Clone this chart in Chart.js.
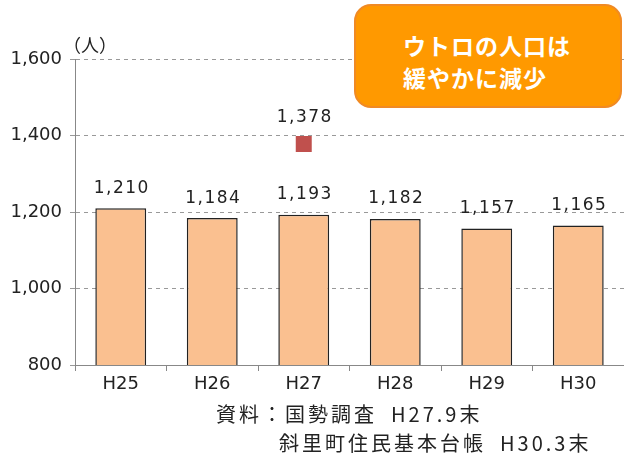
<!DOCTYPE html>
<html>
<head>
<meta charset="utf-8">
<script src="https://cdn.jsdelivr.net/npm/chart.js@4"></script>
<style>
  html, body { margin: 0; padding: 0; background: #fff; }
  #wrap { position: relative; width: 624px; height: 457px; overflow: hidden; }
  #chart { position: absolute; left: 0; top: 0; }
  .unit { position: absolute; left: 63px; top: 31px; font: 18px "Noto Sans CJK JP"; color: #222; }
  .callout {
    position: absolute; left: 354px; top: 4px; width: 264px; height: 100px;
    border: 2px solid #F08A24; border-radius: 17px; background: #FF9900;
    box-sizing: content-box;
  }
  .callout div {
    position: absolute; left: 47px; color: #fff; font: bold 23px "Noto Sans CJK JP";
    letter-spacing: 1px; line-height: 32px; white-space: nowrap;
  }
  .src { position: absolute; font: 20px "Noto Sans CJK JP"; color: #222; letter-spacing: 3px; white-space: pre; line-height: 24px; }
  .gap { letter-spacing: -6px; }
</style>
</head>
<body>
<div id="wrap">
  <canvas id="chart" width="624" height="457"></canvas>
  <div class="unit">（人）</div>
  <div class="callout">
    <div style="top:23px">ウトロの人口は</div>
    <div style="top:55px">緩やかに減少</div>
  </div>
  <div class="src" style="left:216px; top:402px;">資料：国勢調査<span class="gap">　</span>H27.9末</div>
  <div class="src" style="left:279px; top:431px;">斜里町住民基本台帳<span class="gap">　</span>H30.3末</div>
</div>
<script>
// values
const years = ['H25', 'H26', 'H27', 'H28', 'H29', 'H30'];
const residents = [1210, 1184, 1193, 1182, 1157, 1165];   // 住民基本台帳
const census = [null, null, 1378, null, null, null];       // 国勢調査
const yTicks = [800, 1000, 1200, 1400, 1600];

function fmt(v) {
    return v.toLocaleString('en-US');
}

// value labels above the bars and the census point
const valueLabels = {
    id: 'valueLabels',
    afterDatasetsDraw: function (chart) {
        let ctx = chart.ctx;
        ctx.save();
        ctx.font = '17px "DejaVu Sans"';
        ctx.fillStyle = '#222';
        ctx.textAlign = 'center';
        ctx.textBaseline = 'middle';
        ctx.letterSpacing = '1.5px';
        chart.data.datasets.forEach(function (ds, i) {
            let meta = chart.getDatasetMeta(i);
            meta.data.forEach(function (el, j) {
                let v = ds.data[j];
                if (v == null) return;
                let off = ds.type === 'line' ? 26 : 20;
                ctx.fillText(fmt(v), el.x + 1, el.y - off);
            });
        });
        ctx.restore();
    }
};

new Chart(document.getElementById('chart'), {
    type: 'bar',
    data: {
        labels: years,
        datasets: [
            {
                type: 'line',
                label: '国勢調査',
                data: census,
                showLine: false,
                pointStyle: 'rect',
                pointRadius: 11.3,
                pointBorderWidth: 0,
                backgroundColor: '#C0504D',
                borderColor: '#C0504D'
            },
            {
                label: '住民基本台帳',
                data: residents,
                backgroundColor: '#FAC090',
                borderColor: '#222',
                borderWidth: 1.5,
                categoryPercentage: 1,
                barPercentage: 0.556
            }
        ]
    },
    options: {
        responsive: false,
        devicePixelRatio: 1,
        animation: false,
        layout: { autoPadding: false, padding: { top: 59, right: 0, bottom: 0, left: 0 } },
        plugins: {
            legend: { display: false },
            tooltip: { enabled: false }
        },
        scales: {
            x: {
                afterFit: function (s) {
                    s.height = 92;
                    s.paddingLeft = 0;
                    s.paddingRight = 0;
                },
                grid: { drawOnChartArea: false, drawTicks: true, tickLength: 6, color: '#888' },
                border: { display: true, color: '#888', width: 1 },
                ticks: { color: '#222', font: { family: 'DejaVu Sans', size: 18 }, padding: 3 }
            },
            y: {
                min: 800,
                max: 1600,
                afterFit: function (s) {
                    s.width = 75;
                    s.paddingTop = 0;
                    s.paddingBottom = 0;
                },
                afterBuildTicks: function (s) { s.ticks = yTicks.map(v => ({ value: v })); },
                grid: { color: '#999', tickLength: 5, tickBorderDash: [] },
                border: { display: true, color: '#888', width: 1, dash: [4, 4] },
                ticks: {
                    color: '#222',
                    font: { family: 'DejaVu Sans', size: 18 },
                    padding: 8,
                    callback: v => fmt(v)
                }
            }
        }
    },
    plugins: [valueLabels]
});
</script>
</body>
</html>
